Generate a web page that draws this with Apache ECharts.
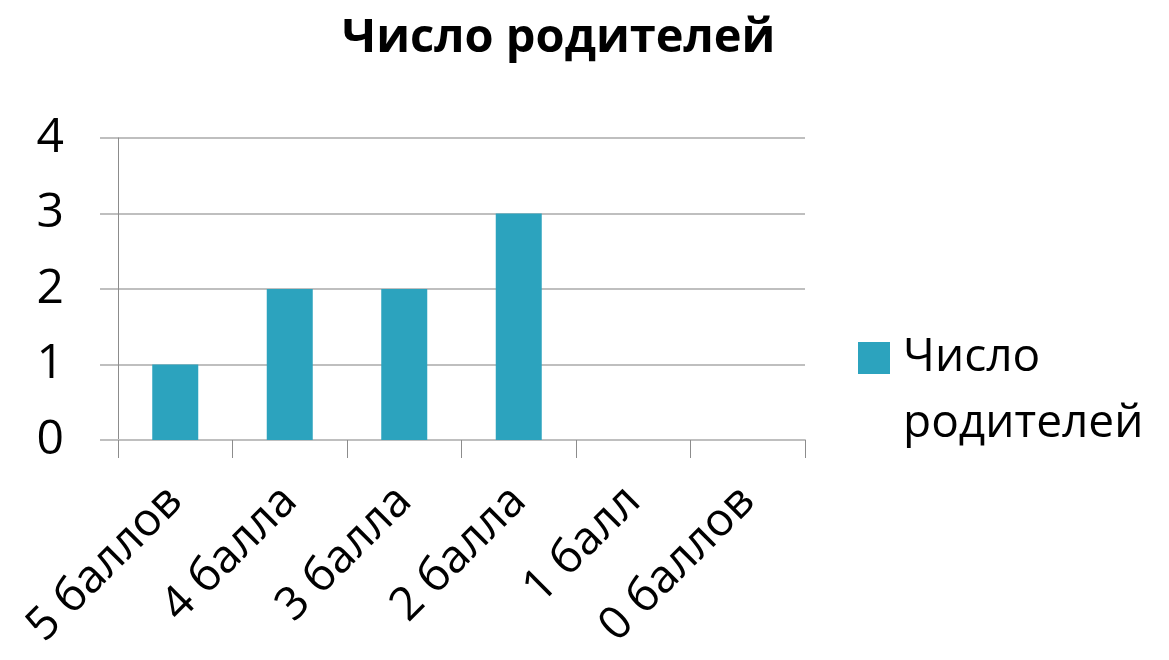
<!DOCTYPE html>
<html>
<head>
<meta charset="utf-8">
<script src="https://cdn.jsdelivr.net/npm/echarts@6/dist/echarts.min.js"></script>
<style>html,body{margin:0;padding:0;background:#fff}#c{width:1169px;height:660px}</style>
</head>
<body>
<div id="c"></div>
<script>
const categories = ['5 баллов', '4 балла', '3 балла', '2 балла', '1 балл', '0 баллов'];
const values = [1, 2, 2, 3, 0, 0];
const seriesName = 'Число родителей';
const titleText = 'Число родителей';
const legendLines = ['Число', 'родителей'];

const FONT = '"Open Sans", "Noto Sans", sans-serif';
const chart = echarts.init(document.getElementById('c'), null, {renderer: 'canvas'});
chart.setOption({
  animation: false,
  backgroundColor: '#ffffff',
  title: {
    text: titleText,
    left: 337, top: 10,
    textStyle: {fontFamily: FONT, fontSize: 47, fontWeight: 'bold', color: '#000'}
  },
  legend: {
    data: [seriesName],
    left: 853, top: 254,
    itemWidth: 32, itemHeight: 32, itemGap: 14,
    icon: 'rect',
    formatter: function () { return '{t|\n' + legendLines.join('\n') + '}'; },
    textStyle: {
      fontFamily: FONT, fontSize: 46, color: '#000', lineHeight: 66,
      rich: {t: {fontFamily: FONT, fontSize: 46, color: '#000', lineHeight: 66, padding: [0, 0, 0, 8]}}
    }
  },
  grid: {left: 118, right: 364, top: 138, bottom: 220, containLabel: false},
  xAxis: {
    type: 'category',
    data: categories,
    boundaryGap: true,
    axisLine: {show: true, lineStyle: {color: '#bfbfbf', width: 2}},
    axisTick: {show: true, length: 18, alignWithLabel: false, lineStyle: {color: '#8c8c8c', width: 1}},
    axisLabel: {rotate: 45, margin: 54, interval: 0, fontFamily: FONT, fontSize: 46, color: '#000'},
    splitLine: {show: false}
  },
  yAxis: {
    type: 'value',
    min: 0, max: 4, interval: 1,
    axisLine: {show: true, lineStyle: {color: '#8c8c8c', width: 1}},
    axisTick: {show: true, length: 18, lineStyle: {color: '#bfbfbf', width: 2}},
    axisLabel: {margin: 54, fontFamily: FONT, fontSize: 48, color: '#000'},
    splitLine: {show: true, lineStyle: {color: '#bfbfbf', width: 2}}
  },
  series: [{
    name: seriesName,
    type: 'bar',
    data: values,
    barWidth: 46,
    itemStyle: {color: '#2ca3be'}
  }]
});
</script>
</body>
</html>
